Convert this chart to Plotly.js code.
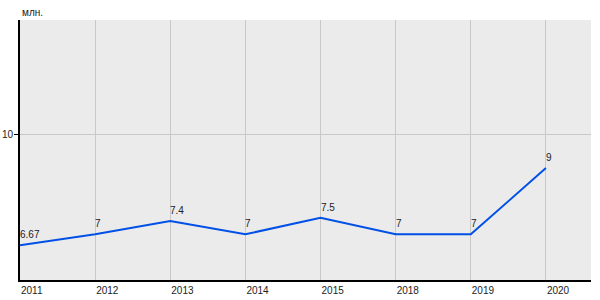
<!DOCTYPE html>
<html>
<head>
<meta charset="utf-8">
<script src="https://cdn.plot.ly/plotly-3.0.1.min.js"></script>
<style>html,body{margin:0;padding:0;background:#fff;}#chart{width:600px;height:300px;}</style>
</head>
<body>
<div id="chart"></div>
<script>
const years = ['2011','2012','2013','2014','2015','2018','2019','2020'];
const values = [6.67, 7, 7.4, 7, 7.5, 7, 7, 9];
const labels = ['6.67','7','7.4','7','7.5','7','7','9'];
const unitLabel = 'млн.';

const trace = {
  x: years,
  y: values,
  type: 'scatter',
  mode: 'lines',
  line: {color: '#0050e6', width: 2},
  hoverinfo: 'none'
};

const valueAnnotations = years.map((yr, i) => ({
  x: i, y: values[i], xref: 'x', yref: 'y',
  text: labels[i], showarrow: false,
  xanchor: 'left', yanchor: 'bottom',
  xshift: -2, yshift: 3,
  font: {size: 10, color: '#222'}
}));

const layout = {
  width: 600, height: 300,
  margin: {l: 20, r: 9, t: 20, b: 20},
  paper_bgcolor: '#ffffff',
  plot_bgcolor: '#ebebeb',
  showlegend: false,
  font: {family: 'Liberation Sans, Arial, sans-serif', size: 10, color: '#222'},
  xaxis: {
    type: 'category',
    range: [0, 7.6],
    showgrid: true, gridcolor: '#c8c8c8', gridwidth: 1,
    showline: true, linecolor: '#000', linewidth: 2,
    ticks: '', ticklabelposition: 'outside right',
    tickfont: {size: 10, color: '#222'},
    zeroline: false, fixedrange: true
  },
  yaxis: {
    range: [5.62, 13.47],
    tickvals: [10], ticktext: ['10'],
    showgrid: true, gridcolor: '#c8c8c8', gridwidth: 1,
    showline: true, linecolor: '#000', linewidth: 2,
    ticks: 'outside', ticklen: 4, tickcolor: '#000',
    ticklabelstandoff: -1,
    tickfont: {size: 10, color: '#222'},
    zeroline: false, fixedrange: true
  },
  annotations: [{
    text: unitLabel, xref: 'paper', yref: 'paper', x: 0, y: 1,
    xanchor: 'left', yanchor: 'bottom', yshift: 0, showarrow: false,
    font: {size: 10, color: '#222'}
  }].concat(valueAnnotations)
};

Plotly.newPlot('chart', [trace], layout, {displayModeBar: false, staticPlot: true});
</script>
</body>
</html>
